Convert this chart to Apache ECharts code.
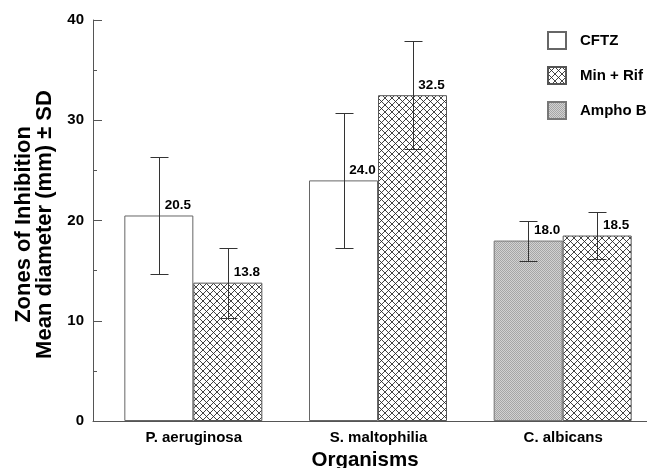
<!DOCTYPE html>
<html>
<head>
<meta charset="utf-8">
<script src="https://cdn.jsdelivr.net/npm/echarts@6/dist/echarts.min.js"></script>
<style>
html,body{margin:0;padding:0;background:#fff;}
#c{width:647px;height:468px;}
</style>
</head>
<body>
<div id="c"></div>
<script>
// ---- data ----
var categories = ['P. aeruginosa', 'S. maltophilia', 'C. albicans'];
var cftzMean   = [20.5, 24.0, null];
var cftzSD     = [5.8, 6.7, null];
var amphoMean  = [null, null, 18.0];
var amphoSD    = [null, null, 2.0];
var minRifMean = [13.8, 32.5, 18.5];
var minRifSD   = [3.5, 5.4, 2.3];
var spacer     = [0, 0, 0];
var yTicks     = [0, 10, 20, 30, 40];

// ---- styles ----
var FONT = '"Liberation Sans", Arial, Helvetica, sans-serif';
var BAR_W = 69, SPACER_W = 16, CAP_W = 18;

function hatchPattern() {
  var s = 7, c = document.createElement('canvas');
  c.width = s; c.height = s;
  var g = c.getContext('2d');
  g.fillStyle = '#fff'; g.fillRect(0, 0, s, s);
  g.strokeStyle = '#222'; g.lineWidth = 0.85;
  g.beginPath();
  g.moveTo(0, 0); g.lineTo(s, s);
  g.moveTo(s, 0); g.lineTo(0, s);
  g.stroke();
  return c;
}
function stipplePattern() {
  var c = document.createElement('canvas');
  c.width = 2; c.height = 2;
  var g = c.getContext('2d');
  g.fillStyle = '#d2d2d2'; g.fillRect(0, 0, 2, 2);
  g.fillStyle = '#a6a6a6'; g.fillRect(0, 0, 1, 1); g.fillRect(1, 1, 1, 1);
  return c;
}

var total = SPACER_W + 2 * BAR_W;
var slot1 = -total / 2 + SPACER_W + BAR_W / 2;
var slot2 = slot1 + BAR_W;

function errSeries(means, sds, xoff) {
  var d = means.map(function (m, i) { return [i, m, sds[i]]; }).filter(function (r) { return r[1] != null; });
  return {
    type: 'custom', silent: true, z: 5,
    data: d,
    renderItem: function (params, api) {
      var i = api.value(0), m = api.value(1), sd = api.value(2);
      var top = api.coord([i, m + sd]);
      var bot = api.coord([i, m - sd]);
      var x = Math.round(top[0] + xoff) + 0.5;
      var yt = Math.round(top[1]) + 0.5, yb = Math.round(bot[1]) + 0.5;
      var st = { stroke: '#333', lineWidth: 1 };
      return { type: 'group', children: [
        { type: 'line', shape: { x1: x, y1: yt, x2: x, y2: yb }, style: st },
        { type: 'line', shape: { x1: x - CAP_W / 2, y1: yt, x2: x + CAP_W / 2, y2: yt }, style: st },
        { type: 'line', shape: { x1: x - CAP_W / 2, y1: yb, x2: x + CAP_W / 2, y2: yb }, style: st }
      ]};
    }
  };
}

var valLabel = {
  show: true, position: 'top', distance: 3, offset: [19, 0],
  color: '#000', fontFamily: FONT, fontWeight: 'bold', fontSize: 13.5,
  formatter: function (p) { return p.value == null ? '' : Number(p.value).toFixed(1); }
};

var chart = echarts.init(document.getElementById('c'), null, { renderer: 'canvas' });
var hatch = hatchPattern(), stipple = stipplePattern();

chart.setOption({
  animation: false,
  backgroundColor: '#fff',
  grid: { left: 93, right: 0, top: 20, bottom: 47, containLabel: false, outerBoundsMode: 'none' },
  legend: {
    orient: 'vertical', left: 542, top: 26, icon: 'rect',
    itemWidth: 18, itemHeight: 17, itemGap: 16,
    data: ['CFTZ', 'Min + Rif', 'Ampho B'],
    textStyle: { fontFamily: FONT, fontWeight: 'bold', fontSize: 15, color: '#000', padding: [0, 0, 0, 9] }
  },
  xAxis: {
    type: 'category', data: categories,
    axisLine: { lineStyle: { color: '#555', width: 1 } },
    axisTick: { show: false },
    axisLabel: { margin: 9, color: '#000', fontFamily: FONT, fontWeight: 'bold', fontSize: 15, padding: [0, 0, 0, 17] },
    name: 'Organisms', nameLocation: 'middle', nameGap: 28,
    nameTextStyle: { color: '#000', fontFamily: FONT, fontWeight: 'bold', fontSize: 20.5, padding: [0, 10, 0, 0] }
  },
  yAxis: {
    type: 'value', min: yTicks[0], max: yTicks[yTicks.length - 1], interval: 10,
    axisLine: { show: true, lineStyle: { color: '#555', width: 1 } },
    axisTick: { show: true, inside: true, length: 9, lineStyle: { color: '#555' } },
    minorTick: { show: true, splitNumber: 2, length: 4, lineStyle: { color: '#555' } },
    splitLine: { show: false },
    axisLabel: { margin: 9, color: '#000', fontFamily: FONT, fontWeight: 'bold', fontSize: 15 },
    name: 'Zones of Inhibition\nMean diameter (mm) ± SD',
    nameLocation: 'middle', nameRotate: 90, nameGap: 37,
    nameTextStyle: { color: '#000', fontFamily: FONT, fontWeight: 'bold', fontSize: 22, lineHeight: 21, padding: [0, 8, 0, 0] }
  },
  series: [
    { name: 'spacer', type: 'bar', data: spacer, barWidth: SPACER_W, barGap: '0%', silent: true,
      itemStyle: { color: 'rgba(0,0,0,0)' }, label: { show: false } },
    { name: 'CFTZ', type: 'bar', stack: 'a', data: cftzMean, barWidth: BAR_W, barGap: '0%',
      itemStyle: { color: '#fff', borderColor: '#666', borderWidth: 1 }, label: valLabel },
    { name: 'Ampho B', type: 'bar', stack: 'a', data: amphoMean, barWidth: BAR_W, barGap: '0%',
      itemStyle: { color: { image: stipple, repeat: 'repeat' }, borderColor: '#777', borderWidth: 1 }, label: valLabel },
    { name: 'Min + Rif', type: 'bar', data: minRifMean, barWidth: BAR_W, barGap: '0%',
      itemStyle: { color: { image: hatch, repeat: 'repeat' }, borderColor: '#555', borderWidth: 1 }, label: valLabel },
    errSeries(cftzMean, cftzSD, slot1),
    errSeries(amphoMean, amphoSD, slot1),
    errSeries(minRifMean, minRifSD, slot2)
  ]
});
</script>
</body>
</html>
